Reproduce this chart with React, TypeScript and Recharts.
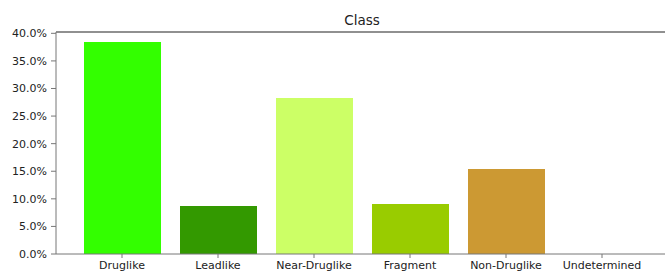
import React from 'react';
import { BarChart, Bar, XAxis, YAxis, Cell, ReferenceLine } from 'recharts';

const categories = ['Druglike', 'Leadlike', 'Near-Druglike', 'Fragment', 'Non-Druglike', 'Undetermined'];
const percentages = [38.43, 8.7, 28.28, 9.06, 15.41, 0];
const barColors = ['#33ff00', '#339900', '#ccff66', '#99cc00', '#cc9933', '#999999'];
const yTicks = [0, 5, 10, 15, 20, 25, 30, 35, 40];
const yMax = 40.24;
const chartTitle = 'Class';

const data = categories.map((name, i) => ({ name, value: percentages[i] }));

const FONT = '"DejaVu Sans", sans-serif';

export default function App() {
  return (
    <div style={{ position: 'absolute', left: 0, top: 0, width: 665, height: 271, overflow: 'hidden', background: '#fff' }}>
      <div
        style={{
          position: 'absolute',
          left: 362,
          top: 14,
          transform: 'translateX(-50%)',
          fontFamily: FONT,
          fontSize: 13.5,
          lineHeight: 1,
          color: '#222',
          whiteSpace: 'nowrap',
        }}
      >
        {chartTitle}
      </div>
      <BarChart
        width={670}
        height={290}
        data={data}
        margin={{ top: 32, right: 2, bottom: 6, left: 0 }}
      >
        <XAxis
          dataKey="name"
          type="category"
          height={30}
          padding={{ left: 18, right: 18 }}
          tickSize={4}
          tickMargin={3}
          axisLine={{ stroke: '#777', strokeWidth: 1 }}
          tickLine={{ stroke: '#777' }}
          tick={{ fontFamily: FONT, fontSize: 11, fill: '#222' }}
          interval={0}
        />
        <YAxis
          type="number"
          domain={[0, yMax]}
          ticks={yTicks}
          width={56}
          tickSize={5}
          tickMargin={4}
          axisLine={{ stroke: '#777', strokeWidth: 1 }}
          tickLine={{ stroke: '#777' }}
          tick={{ fontFamily: FONT, fontSize: 11, fill: '#222' }}
          tickFormatter={(v: number) => `${v.toFixed(1)}%`}
          allowDataOverflow
        />
        <ReferenceLine y={yMax} stroke="#222" strokeWidth={1.2} />
        <Bar dataKey="value" barSize={77} isAnimationActive={false}>
          {data.map((d, i) => (
            <Cell key={d.name} fill={barColors[i]} />
          ))}
        </Bar>
      </BarChart>
    </div>
  );
}
